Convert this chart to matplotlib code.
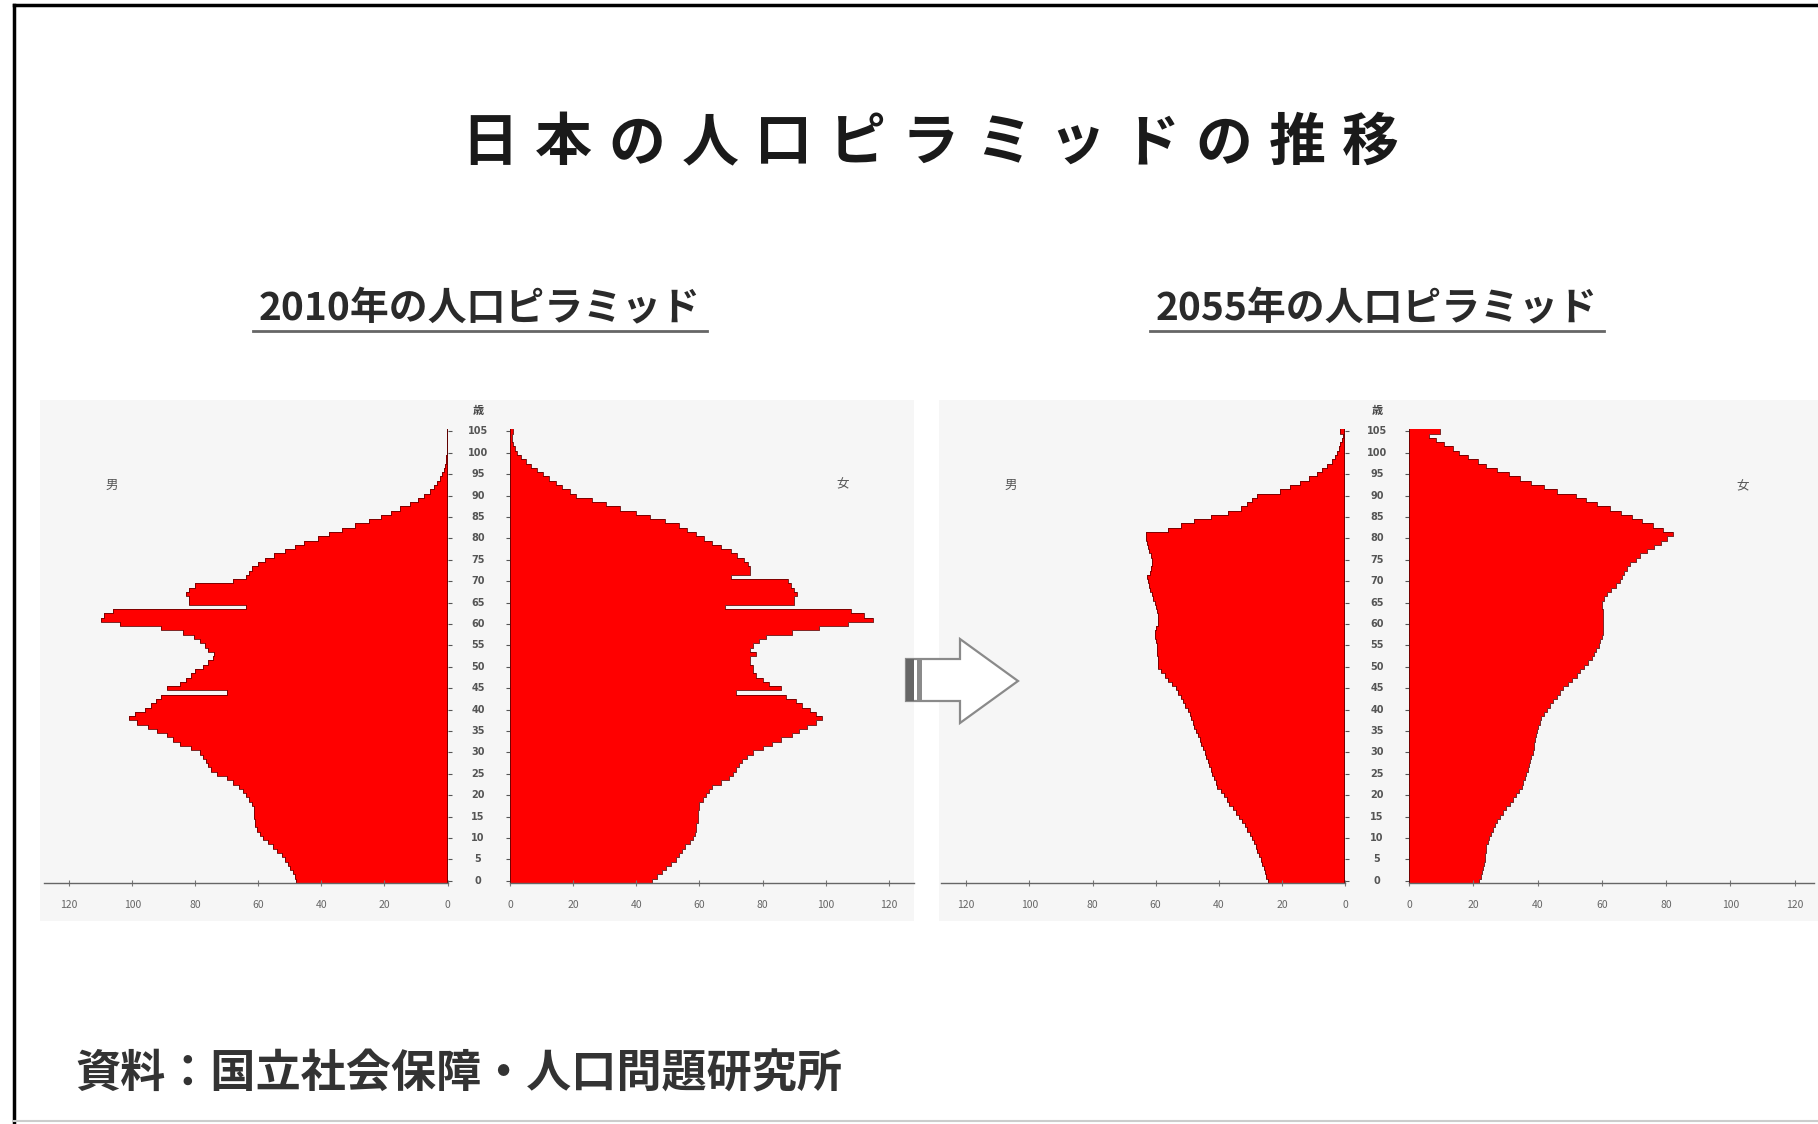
import numpy as np
import matplotlib
matplotlib.use('Agg')
import matplotlib.pyplot as plt
from matplotlib.patches import Rectangle, Polygon
from matplotlib.transforms import blended_transform_factory

plt.rcParams['font.family'] = ['Noto Sans CJK JP', 'DejaVu Sans']

# age 0..105 (105 = 105+), population in 10k persons
ages = np.arange(0, 106)
age_ticks = np.arange(0, 106, 5)
pop_ticks = [0, 20, 40, 60, 80, 100, 120]

male_2010 = [48, 48.5, 49, 50, 50.5, 51.5, 52.5, 54, 55.5, 57,
             58.5, 59.5, 60.5, 61, 61, 61.5, 61.5, 61.5, 62, 63,
             64, 65, 66, 68, 70, 73, 75, 76, 76.5, 77.5,
             78.5, 81.5, 85, 87, 89, 92, 95, 98.5, 101, 99,
             96, 94, 92.5, 91, 70, 89, 85, 83, 81.5, 80,
             77.5, 76, 74.5, 74, 76, 77, 78.5, 80.5, 84, 91,
             104, 110, 109, 106, 64, 82, 82, 83, 82, 80,
             68, 64, 63, 62, 60, 58, 55, 51.5, 48.5, 45.5,
             41, 37.5, 33.5, 29.5, 25, 21, 18, 15, 12, 9.5,
             7.5, 5.5, 4.2, 3.2, 2.3, 1.6, 1.1, 0.8, 0.5, 0.4,
             0.3, 0.2, 0.15, 0.1, 0.1, 0.3]
female_2010 = [45, 46.5, 48, 49.5, 51, 52.5, 53.5, 54.5, 55.5, 57,
               58, 58.5, 59, 59, 59.5, 59.5, 59.5, 60, 60, 61,
               62, 63, 64, 67, 69.5, 70.5, 71.5, 72.5, 73.5, 75,
               77, 80, 83, 86, 89.5, 91.5, 94, 97, 99, 97,
               95, 92.5, 90.5, 87.5, 71.5, 86, 82, 80, 78, 77,
               77, 76, 76, 78, 76, 77, 79, 81, 89.5, 98,
               107, 115, 112, 108, 68, 90, 90, 91, 90, 89,
               88, 70, 76, 76, 75.5, 74, 72, 70, 67, 64,
               61.5, 59, 56, 53.5, 49, 44.5, 40, 35, 30.5, 26,
               21, 19, 16.5, 14.5, 12.5, 10.5, 8.5, 6.5, 5, 3.5,
               2.2, 1.5, 1, 0.7, 0.5, 0.8]
male_2055 = [24.5, 25, 25.5, 25.7, 26.2, 26.7, 27.2, 27.8, 28.3, 28.8,
             29.4, 30.1, 30.9, 31.8, 32.6, 33.5, 34.6, 35.6, 36.7, 37.5,
             38.3, 39.4, 40.4, 41, 41.5, 42, 42.5, 43, 43.5, 44,
             44.5, 45, 45.5, 46, 46.6, 47.2, 47.7, 48.2, 48.7, 49.2,
             49.8, 50.6, 51.4, 52.1, 52.8, 53.5, 54.7, 56, 57.1, 58.2,
             59.2, 59.3, 59.3, 59.5, 59.6, 59.7, 60, 60.2, 60.3, 59.8,
             59.2, 59.2, 59.2, 59.6, 60, 60.3, 60.8, 61.3, 61.8, 62.1,
             62.4, 62.8, 61.8, 61.5, 61.3, 61.3, 61.6, 62, 62.4, 62.7,
             62.9, 62.9, 56, 52, 47.7, 42.5, 37.2, 33, 31, 29.5,
             28, 20.5, 17.5, 14.2, 11.5, 8.9, 7.2, 5.6, 4.2, 3.3,
             2.6, 2, 1.5, 1, 0.7, 1.6]
female_2055 = [21.9, 22.3, 22.7, 23, 23.3, 23.5, 23.7, 23.9, 24.1, 24.5,
               25, 25.5, 26.1, 26.8, 27.5, 28.2, 29.2, 30.3, 31.3, 32.4,
               33.4, 34.2, 35, 35.5, 36, 36.5, 36.9, 37.3, 37.6, 38.1,
               38.6, 38.8, 39, 39.1, 39.4, 39.7, 40.2, 40.7, 41.2, 42,
               42.8, 43.8, 44.9, 45.9, 47, 48, 49.4, 50.8, 52.2, 53.3,
               54.3, 55.6, 56.9, 57.6, 58.3, 59, 59.5, 60, 60.2, 60.4,
               60.5, 60.5, 60.5, 60.3, 60.1, 60, 60.8, 61.6, 63, 64.4,
               65.8, 66.3, 66.8, 67.8, 68.9, 70.5, 72, 74, 76.2, 78.3,
               80.4, 82, 79, 76, 72.5, 69.5, 66, 62.5, 58.5, 55,
               52, 46, 42, 38, 34.4, 31, 27.5, 24, 21.5, 18.5,
               15.5, 13.6, 11, 8.5, 6.3, 9.5]

title = '日本の人口ピラミッドの推移'
sub_2010 = '2010年の人口ピラミッド'
sub_2055 = '2055年の人口ピラミッド'
source = '資料：国立社会保障・人口問題研究所'

W, H = 1818, 1124
fig = plt.figure(figsize=(W / 100, H / 100), dpi=100)
fig.patch.set_facecolor('white')

# background layer in pixel coordinates
bg = fig.add_axes([0, 0, 1, 1])
bg.set_xlim(0, W)
bg.set_ylim(H, 0)
bg.axis('off')

bg.add_patch(Rectangle((40, 400), 874, 521, fc='#f6f6f6', ec='none'))
bg.add_patch(Rectangle((939, 400), 880, 521, fc='#f6f6f6', ec='none'))

# frame
bg.plot([14, 14], [5, H], color='black', lw=2.5)
bg.plot([14, W], [5, 5], color='black', lw=2.5)
bg.plot([14, W], [1121, 1121], color='#cccccc', lw=1.5)

# title, spaced out like the original
for i, ch in enumerate(title):
    bg.text(490 + i * 73.4, 143, ch, fontsize=41, fontweight='bold',
            color='#1a1a1a', ha='center', va='center')

for txt, cx in [(sub_2010, 480), (sub_2055, 1377)]:
    bg.text(cx, 309, txt, fontsize=28, fontweight='bold', color='#2a2a2a',
            ha='center', va='center')
    bg.plot([cx - 227, cx + 227], [331, 331], color='#666666', lw=2)

bg.text(75, 1074, source, fontsize=32.5, fontweight='bold', color='#333333',
        ha='left', va='center')

# arrow between the pyramids
bg.add_patch(Polygon([(906, 659), (960, 659), (960, 639), (1018, 681),
                      (960, 723), (960, 701), (906, 701)],
                     closed=True, fc='white', ec='#8a8a8a', lw=1.6))
bg.add_patch(Rectangle((906, 659), 8, 42, fc='#666666', ec='none'))
bg.add_patch(Rectangle((917, 659), 5, 42, fc='#8a8a8a', ec='none'))

bottom = 1 - 883 / H
height = (883 - 418.6) / H


def half(left_px, right_px, vals, side, xmax):
    ax = fig.add_axes([left_px / W, bottom, (right_px - left_px) / W, height])
    ax.patch.set_alpha(0)
    ax.barh(ages, vals, height=1.0, color='#ff0000', linewidth=0)
    # dark fringe around the bars
    y_edges = np.column_stack([ages - 0.5, ages + 0.5]).ravel()
    ax.plot(np.repeat(vals, 2), y_edges, color='#6a0000', lw=0.6)
    ax.vlines(0, ages[0] - 0.5, ages[-1] + 0.5, color='#5a0000', lw=1.2)
    ax.set_ylim(-0.5, 108)
    if side == 'male':
        ax.set_xlim(xmax, 0)
        ax.yaxis.tick_right()
    else:
        ax.set_xlim(0, xmax)
        ax.yaxis.tick_left()
    for s in ['top', 'left', 'right']:
        ax.spines[s].set_visible(False)
    ax.spines['bottom'].set_color('#666666')
    ax.spines['bottom'].set_linewidth(1.0)
    ax.set_xticks(pop_ticks)
    ax.set_xticklabels([str(v) for v in pop_ticks])
    ax.tick_params(axis='x', direction='inout', length=5, width=0.8,
                   colors='#777777', labelsize=7.5, labelcolor='#666666', pad=10)
    ax.set_yticks(age_ticks)
    ax.set_yticklabels([])
    ax.tick_params(axis='y', direction='out', length=3, width=0.8, colors='#555555')
    return ax


ax_m10 = half(44, 447.5, male_2010, 'male', 128)
ax_f10 = half(510, 914, female_2010, 'female', 128)
ax_m55 = half(941, 1345, male_2055, 'male', 128)
ax_f55 = half(1409, 1814, female_2055, 'female', 126)

# age labels in the gap between the halves
for ax, cx in [(ax_f10, 478), (ax_f55, 1377)]:
    tr = blended_transform_factory(bg.transData, ax.transData)
    for a in age_ticks:
        fig.text(cx, a, str(a), transform=tr, fontsize=7, fontweight='bold',
                 color='#555555', ha='center', va='center',
                 family='DejaVu Sans')
    fig.text(cx, 109.8, '歳', transform=tr, fontsize=8, fontweight='bold',
             color='#444444', ha='center', va='center')

for x, y, s in [(112, 485, '男'), (843, 485, '女'), (1011, 485, '男'), (1743, 487, '女')]:
    bg.text(x, y, s, fontsize=9, color='#555555', ha='center', va='center')

fig.savefig('out.png', dpi=100, facecolor='white')
